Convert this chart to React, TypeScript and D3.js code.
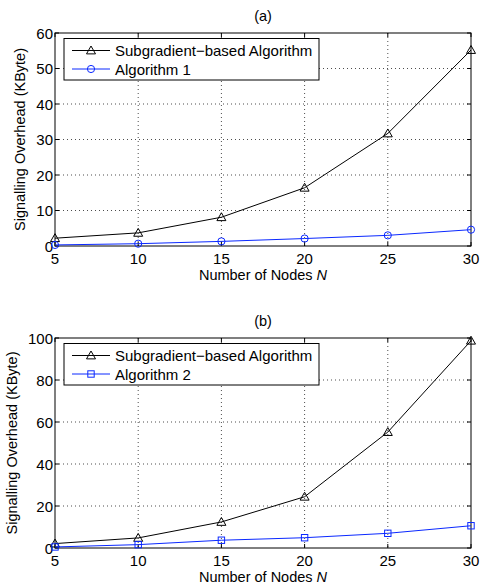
import React from "react";
import * as d3 from "d3";

const nodes = [5, 10, 15, 20, 25, 30];
const subgradientA = [2.2, 3.7, 8.1, 16.4, 31.7, 55.2];
const algorithm1 = [0.3, 0.65, 1.3, 2.1, 3.0, 4.6];
const subgradientB = [2.1, 4.8, 12.4, 24.4, 55.2, 98.7];
const algorithm2 = [0.5, 1.6, 3.7, 4.9, 7.0, 10.6];
const yTicksA = [0, 10, 20, 30, 40, 50, 60];
const yTicksB = [0, 20, 40, 60, 80, 100];

const FONT = "'Liberation Sans', Arial, Helvetica, sans-serif";
const W = 481;
const H = 585;
const left = 55;
const right = 471;

function Marker({ kind, x, y, color }) {
  if (kind === "tri") {
    const s = 4.5;
    const pts = `${x},${y - s} ${x - s},${y + s * 0.75} ${x + s},${y + s * 0.75}`;
    return <polygon points={pts} fill="none" stroke={color} strokeWidth={1} />;
  }
  if (kind === "circle") {
    return <circle cx={x} cy={y} r={3.6} fill="none" stroke={color} strokeWidth={1} />;
  }
  return <rect x={x - 3.2} y={y - 3.2} width={6.4} height={6.4} fill="none" stroke={color} strokeWidth={1} />;
}

function Panel({ top, bottom, title, yMax, yTicks, series1, series2, name2, marker2, labelX }) {
  const x = d3.scaleLinear().domain([5, 30]).range([left, right]);
  const y = d3.scaleLinear().domain([0, yMax]).range([bottom, top]);
  const line = d3
    .line<number>()
    .x((d, i) => x(nodes[i]))
    .y((d) => y(d));
  const series = [
    { values: series1, color: "#000", kind: "tri", name: "Subgradient\u2212based Algorithm" },
    { values: series2, color: "#0a28ff", kind: marker2, name: name2 },
  ];
  const tl = 4;
  const lgX = 64, lgY = top + 5.5, lgW = 255, lgH = 41.5;
  return (
    <g>
      <text x={(left + right) / 2} y={top - 12} textAnchor="middle" fontSize={14.5} fontFamily={FONT}>{title}</text>
      {/* grid */}
      {nodes.slice(1, -1).map((n) => (
        <line key={"gx" + n} x1={x(n)} x2={x(n)} y1={top} y2={bottom} stroke="#000" strokeWidth={0.7} strokeDasharray="1,3" />
      ))}
      {yTicks.slice(1, -1).map((t) => (
        <line key={"gy" + t} x1={left} x2={right} y1={y(t)} y2={y(t)} stroke="#000" strokeWidth={0.7} strokeDasharray="1,3" />
      ))}
      {/* ticks */}
      {nodes.map((n) => (
        <g key={"tx" + n}>
          <line x1={x(n)} x2={x(n)} y1={bottom} y2={bottom - tl} stroke="#000" />
          <line x1={x(n)} x2={x(n)} y1={top} y2={top + tl} stroke="#000" />
          <text x={x(n)} y={bottom + 18} textAnchor="middle" fontSize={15} fontFamily={FONT}>{n}</text>
        </g>
      ))}
      {yTicks.map((t) => (
        <g key={"ty" + t}>
          <line x1={left} x2={left + tl} y1={y(t)} y2={y(t)} stroke="#000" />
          <line x1={right} x2={right - tl} y1={y(t)} y2={y(t)} stroke="#000" />
          <text x={left - 2} y={y(t) + 5.5} textAnchor="end" fontSize={15} fontFamily={FONT}>{t}</text>
        </g>
      ))}
      <rect x={left} y={top} width={right - left} height={bottom - top} fill="none" stroke="#000" strokeWidth={1} />
      {/* series */}
      {series.map((s) => (
        <g key={s.name}>
          <path d={line(s.values) ?? ""} fill="none" stroke={s.color} strokeWidth={1} />
          {s.values.map((v, i) => (
            <Marker key={i} kind={s.kind} x={x(nodes[i])} y={y(v)} color={s.color} />
          ))}
        </g>
      ))}
      {/* legend */}
      <rect x={lgX} y={lgY} width={lgW} height={lgH} fill="#fff" stroke="#000" strokeWidth={1} />
      {series.map((s, i) => {
        const ly = lgY + 12 + i * 18.5;
        return (
          <g key={"lg" + i}>
            <line x1={72} x2={110} y1={ly} y2={ly} stroke={s.color} strokeWidth={1} />
            <Marker kind={s.kind} x={91} y={ly} color={s.color} />
            <text x={115} y={ly + 5.5} fontSize={15} fontFamily={FONT}>{s.name}</text>
          </g>
        );
      })}
      {/* axis labels */}
      <text x={(left + right) / 2} y={bottom + 34} textAnchor="middle" fontSize={14.5} fontFamily={FONT}>
        Number of Nodes <tspan fontStyle="italic">N</tspan>
      </text>
      <text
        transform={`translate(${labelX},${(top + bottom) / 2}) rotate(-90)`}
        textAnchor="middle"
        fontSize={14.5}
        fontFamily={FONT}
      >
        Signalling Overhead (KByte)
      </text>
    </g>
  );
}

export default function App() {
  return (
    <svg width={W} height={H} style={{ position: "absolute", left: 0, top: 0, background: "#fff" }}>
      <Panel top={33} bottom={246} title="(a)" yMax={60} yTicks={yTicksA} series1={subgradientA} series2={algorithm1} name2="Algorithm 1" marker2="circle" labelX={25} />
      <Panel top={338} bottom={548} title="(b)" yMax={100} yTicks={yTicksB} series1={subgradientB} series2={algorithm2} name2="Algorithm 2" marker2="square" labelX={17} />
    </svg>
  );
}
